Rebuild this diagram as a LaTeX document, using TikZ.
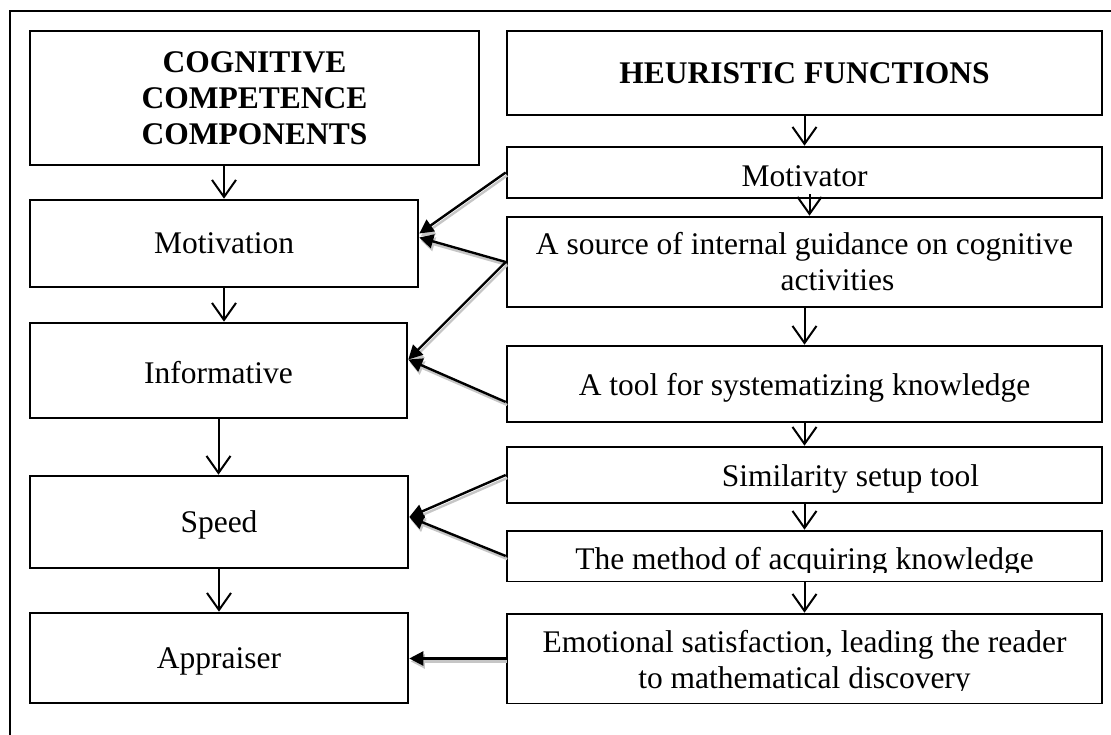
\documentclass[tikz,border=0pt]{standalone}
\usepackage{fontspec}
\setmainfont{Liberation Serif}
\usetikzlibrary{arrows.meta}

\begin{document}
\begin{tikzpicture}[x=1pt,y=1pt,
    box/.style ={rectangle, draw, line width=2.6pt, inner sep=0pt, align=center,
                 font=\fontsize{31.5}{36}\selectfont},
    head/.style ={box, font=\fontsize{31.5}{36}\selectfont\bfseries},
    oneline/.style ={text depth=0pt},
    flow/.style ={line width=2pt, -{Straight Barb[length=17pt,width=24pt]}},
    feed/.style ={line width=2.4pt, -{Triangle[length=14pt,width=14pt]},
                  preaction={draw=gray!45, line width=2.4pt,
                             transform canvas={shift={(1.5pt,-3pt)}}}}]
   \useasboundingbox (0,0) rectangle (1111,735);
   \draw[line width=2.2pt] (1111,724) -- (10,724) -- (10,0);
   % components
   \node[head, minimum width=449, minimum height=134] (ccc) at (254.5,637) {COGNITIVE\\COMPETENCE\\COMPONENTS};
   \node[box, oneline, minimum width=388, minimum height=87] (motiv) at (224,491.5) {Motivation};
   \node[box, oneline, text height=26pt, minimum width=377, minimum height=95] (inform) at (218.5,364.5) {Informative};
   \node[box, oneline, minimum width=378, minimum height=92] (speed) at (219,213) {Speed};
   \node[box, oneline, minimum width=378, minimum height=90] (appr) at (219,77) {Appraiser};
   % functions
   \node[head, minimum width=595, minimum height=84] (heur) at (804.5,662) {HEURISTIC FUNCTIONS};
   \node[box, oneline, text height=29pt, minimum width=595, minimum height=51] (motor) at (804.5,562.5) {Motivator};
   \node[box, minimum width=595, minimum height=90] (source) at (804.5,473) {A source of internal guidance on cognitive\\\hspace*{66pt}activities};
   \node[box, oneline, minimum width=595, minimum height=76] (tool) at (804.5,351) {A tool for systematizing knowledge};
   \node[box, oneline, text height=24pt, minimum width=595, minimum height=56] (sim) at (804.5,260) {\hspace*{92pt}Similarity setup tool};
   \node[box, oneline, text height=28pt, minimum width=595, minimum height=50] (meth) at (804.5,179) {The method of acquiring knowledge};
   \node[box, minimum width=595, minimum height=89] (emo) at (804.5,76.5) {\rule{0pt}{30pt}Emotional satisfaction, leading the reader\\to mathematical discovery};
   % cut-off descenders
   \fill[white] ([shift={(2,1.4)}]meth.south west) rectangle ([shift={(-2,9.5)}]meth.south east);
   \fill[white] ([shift={(2,1.4)}]emo.south west) rectangle ([shift={(-2,13.5)}]emo.south east);

   \draw[flow] (ccc.south -| motiv.north) -- (motiv.north);
   \draw[flow] (motiv.south) -- (motiv.south |- inform.north);
   \draw[flow] (inform.south) -- (inform.south |- speed.north);
   \draw[flow] (speed.south) -- (speed.south |- appr.north);
   \draw[flow] (heur) -- (motor);
   \draw[flow] ([shift={(5,5)}]motor.south) -- ([xshift=5pt]source.north);
   \draw[flow] (source) -- (tool);
   \draw[flow] (tool) -- (sim);
   \draw[flow] (sim) -- (meth);
   \draw[flow] (meth) -- (emo);

   \draw[feed] (motor.west) -- ([yshift=10pt]motiv.east);
   \draw[feed] (source.west) -- ([yshift=6pt]motiv.east);
   \draw[feed] (source.west) -- ([yshift=11pt]inform.east);
   \draw[feed] ([yshift=-18pt]tool.west) -- ([yshift=11pt]inform.east);
   \draw[feed] (sim.west) -- ([yshift=5pt]speed.east);
   \draw[feed] (meth.west) -- ([yshift=5pt]speed.east);
   \draw[feed] (emo.west) -- (emo.west -| appr.east);
 \end{tikzpicture}
\end{document}
